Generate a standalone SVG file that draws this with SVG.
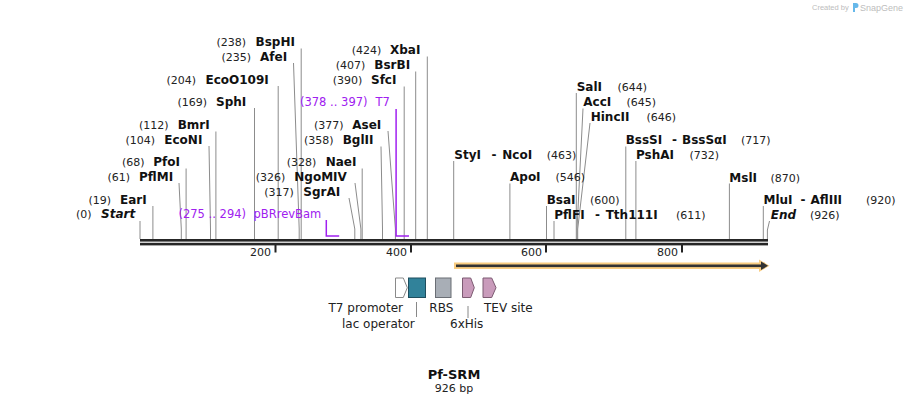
<svg xmlns="http://www.w3.org/2000/svg" width="909" height="405" viewBox="0 0 909 405">
<style>
text{font-family:"DejaVu Sans","Verdana",sans-serif;font-size:11px;fill:#222}
.b{font-weight:bold;font-size:12px;fill:#111}
.bi{font-weight:bold;font-style:italic;font-size:12px;fill:#111}
.p{fill:#a020f0;font-size:11.5px}
.cut{stroke:#8c8c8c;stroke-width:1;fill:none}
.pr{stroke:#a020f0;stroke-width:1.5;fill:none}
.ft{font-size:12px;fill:#222}
.tk{fill:#222}
</style>
<rect width="909" height="405" fill="#fff"/>
<g id="watermark">
<text x="812" y="10" style="font-family:'Liberation Sans',sans-serif;font-size:7.5px;fill:#bdbdbd">Created by</text>
<path d="M853,3 h3 a2.5,2.5 0 0 1 0,5 h-1 v4 h-2 z" fill="#66b8ea"/>
<text x="860" y="11" style="font-family:'Liberation Sans',sans-serif;font-size:9px;fill:#bdbdbd">SnapGene</text>
</g>
<g id="connectors">
<path class="cut" d="M140,221V239"/>
<path class="cut" d="M152.9,206V239"/>
<path class="cut" d="M179,183L181.3,229V239"/>
<path class="cut" d="M186.1,168.5V239"/>
<path class="cut" d="M209,146L210.5,229V239"/>
<path class="cut" d="M215.9,131.5V239"/>
<path class="cut" d="M254.5,108V239"/>
<path class="cut" d="M278.2,86V239"/>
<path class="cut" d="M293.5,63L299.2,229V239"/>
<path class="cut" d="M301.2,48.5V239"/>
<path class="cut" d="M349,198L354.8,229V239"/>
<path class="cut" d="M355,183L360.9,229V239"/>
<path class="cut" d="M362.2,168.5V239"/>
<path class="cut" d="M381,146.5L382.5,229V239"/>
<path class="cut" d="M388,131L395.4,229V239"/>
<path class="cut" d="M404.2,86.5V239"/>
<path class="cut" d="M415.7,71.5V239"/>
<path class="cut" d="M427.3,56.5V239"/>
<path class="cut" d="M453.7,161V239"/>
<path class="cut" d="M509.9,183.5V239"/>
<path class="cut" d="M546.5,206V239"/>
<path class="cut" d="M554,221V239"/>
<path class="cut" d="M576.3,93V239"/>
<path class="cut" d="M583,108.5L577,229V239"/>
<path class="cut" d="M590,123L577.7,229V239"/>
<path class="cut" d="M625.8,146.5V239"/>
<path class="cut" d="M635.9,161V239"/>
<path class="cut" d="M729.4,183.5V239"/>
<path class="cut" d="M763.3,206V239"/>
<path class="cut" d="M769.5,221L767.4,230V239"/>
<path class="pr" d="M396.1,109V236H409"/>
<path class="pr" d="M326.3,220V236H339.2"/>
<path d="M468,306V318" stroke="#888" stroke-width="1"/>
<path d="M416.5,302V317" stroke="#888" stroke-width="1"/>
</g>
<g id="backbone">
<rect x="140" y="239" width="628" height="2.6" fill="#262626"/>
<rect x="140" y="242.8" width="628" height="2.6" fill="#262626"/>
<rect class="tk" x="274.5" y="245" width="2" height="7.5"/>
<rect class="tk" x="410" y="245" width="2" height="7.5"/>
<rect class="tk" x="545" y="245" width="2" height="7.5"/>
<rect class="tk" x="681" y="245" width="2" height="7.5"/>
<text x="271" y="256" text-anchor="end">200</text>
<text x="407" y="256" text-anchor="end">400</text>
<text x="542" y="256" text-anchor="end">600</text>
<text x="678" y="256" text-anchor="end">800</text>
</g>
<g id="site-Start"><text x="76" y="218">(0)</text><text class="bi" x="101" y="218">Start</text></g>
<g id="site-EarI"><text x="88.5" y="203.5">(19)</text><text class="b" x="120" y="203.5">EarI</text></g>
<g id="site-PflMI"><text x="107.5" y="180.5">(61)</text><text class="b" x="139" y="180.5">PflMI</text></g>
<g id="site-PfoI"><text x="122" y="166">(68)</text><text class="b" x="153.3" y="166">PfoI</text></g>
<g id="site-EcoNI"><text x="125.5" y="143.5">(104)</text><text class="b" x="164.3" y="143.5">EcoNI</text></g>
<g id="site-BmrI"><text x="139" y="129">(112)</text><text class="b" x="177.7" y="129">BmrI</text></g>
<g id="site-SphI"><text x="177.5" y="105.5">(169)</text><text class="b" x="216" y="105.5">SphI</text></g>
<g id="site-EcoO109I"><text x="166.5" y="83.5">(204)</text><text class="b" x="205.5" y="83.5">EcoO109I</text></g>
<g id="site-AfeI"><text x="221.5" y="61">(235)</text><text class="b" x="260" y="61">AfeI</text></g>
<g id="site-BspHI"><text x="216.5" y="46">(238)</text><text class="b" x="255.5" y="46">BspHI</text></g>
<g id="primer-T7"><text class="p" x="300" y="106">(378 .. 397)</text><text class="p" x="375.5" y="106">T7</text></g>
<g id="primer-pBRrevBam"><text class="p" x="178.5" y="218">(275 .. 294)</text><text class="p" x="253.5" y="218">pBRrevBam</text></g>
<g id="site-SgrAI"><text x="264.3" y="195.5">(317)</text><text class="b" x="303.3" y="195.5">SgrAI</text></g>
<g id="site-NgoMIV"><text x="255.7" y="180.5">(326)</text><text class="b" x="294.3" y="180.5">NgoMIV</text></g>
<g id="site-NaeI"><text x="286.7" y="166">(328)</text><text class="b" x="325.7" y="166">NaeI</text></g>
<g id="site-BglII"><text x="304" y="144">(358)</text><text class="b" x="342.7" y="144">BglII</text></g>
<g id="site-AseI"><text x="314" y="129">(377)</text><text class="b" x="352.3" y="129">AseI</text></g>
<g id="site-SfcI"><text x="332.7" y="84">(390)</text><text class="b" x="371" y="84">SfcI</text></g>
<g id="site-BsrBI"><text x="335.7" y="69">(407)</text><text class="b" x="374.3" y="69">BsrBI</text></g>
<g id="site-XbaI"><text x="351.7" y="54">(424)</text><text class="b" x="390" y="54">XbaI</text></g>
<g id="site-StyI-NcoI"><text class="b" x="454.3" y="158.5">StyI</text><text class="b" x="491.5" y="158.5">-</text><text class="b" x="502.3" y="158.5">NcoI</text><text x="546.7" y="158.5">(463)</text></g>
<g id="site-ApoI"><text class="b" x="510" y="181">ApoI</text><text x="555.5" y="181">(546)</text></g>
<g id="site-BsaI"><text class="b" x="546.7" y="203.5">BsaI</text><text x="590" y="203.5">(600)</text></g>
<g id="site-PflFI-Tth111I"><text class="b" x="554.3" y="218.5">PflFI</text><text class="b" x="595" y="218.5">-</text><text class="b" x="605.7" y="218.5">Tth111I</text><text x="676" y="218.5">(611)</text></g>
<g id="site-SalI"><text class="b" x="576.7" y="90.5">SalI</text><text x="617.5" y="90.5">(644)</text></g>
<g id="site-AccI"><text class="b" x="583.3" y="106">AccI</text><text x="626.5" y="106">(645)</text></g>
<g id="site-HincII"><text class="b" x="590.7" y="120.5">HincII</text><text x="646.5" y="120.5">(646)</text></g>
<g id="site-BssSI-BssSaI"><text class="b" x="625.7" y="144">BssSI</text><text class="b" x="672" y="144">-</text><text class="b" x="682" y="144">BssSαI</text><text x="741" y="144">(717)</text></g>
<g id="site-PshAI"><text class="b" x="636" y="159">PshAI</text><text x="689.5" y="159">(732)</text></g>
<g id="site-MslI"><text class="b" x="729.3" y="181.5">MslI</text><text x="770.5" y="181.5">(870)</text></g>
<g id="site-MluI-AflIII"><text class="b" x="763.5" y="203.5">MluI</text><text class="b" x="800.5" y="203.5">-</text><text class="b" x="810.5" y="203.5">AflIII</text><text x="866" y="203.5">(920)</text></g>
<g id="site-End"><text class="bi" x="770.7" y="218.5">End</text><text x="810" y="218.5">(926)</text></g>
<g id="feature-orf">
<rect x="454" y="262.5" width="311" height="6.5" fill="#f9cd82"/>
<polygon points="759,259.5 769.5,265.8 759,272" fill="#f9cd82"/>
<rect x="456" y="264.5" width="306" height="2.6" fill="#333"/>
<polygon points="761,261.5 768,265.8 761,270" fill="#333"/>
</g>
<g id="feature-T7-promoter">
<polygon points="395.5,278 403.3,278 407.3,287.7 403.3,297.5 395.5,297.5" fill="#fff" stroke="#8a8a8a" stroke-width="1"/>
<text class="ft" x="328.5" y="311.5">T7 promoter</text>
</g>
<g id="feature-lac-operator">
<rect x="408.5" y="278" width="17" height="19.5" fill="#31829a" stroke="#1e4e5e" stroke-width="1"/>
<text class="ft" x="342" y="327.5">lac operator</text>
</g>
<g id="feature-RBS">
<rect x="435.5" y="278" width="15.5" height="19.5" fill="#a8aeb6" stroke="#6a6e75" stroke-width="1"/>
<text class="ft" x="429.3" y="311.5">RBS</text>
</g>
<g id="feature-6xHis">
<polygon points="462.5,278 470.7,278 474.3,287.7 470.7,297.5 462.5,297.5" fill="#c99bbb" stroke="#7c5b72" stroke-width="1"/>
<text class="ft" x="450" y="327.5">6xHis</text>
</g>
<g id="feature-TEV-site">
<polygon points="483,278 491.7,278 496,287.7 491.7,297.5 483,297.5" fill="#c99bbb" stroke="#7c5b72" stroke-width="1"/>
<text class="ft" x="484" y="311.5">TEV site</text>
</g>
<g id="title">
<text x="454" y="379" text-anchor="middle" style="font-weight:bold;font-size:13px;fill:#111">Pf-SRM</text>
<text x="454" y="392" text-anchor="middle">926 bp</text>
</g>
</svg>
